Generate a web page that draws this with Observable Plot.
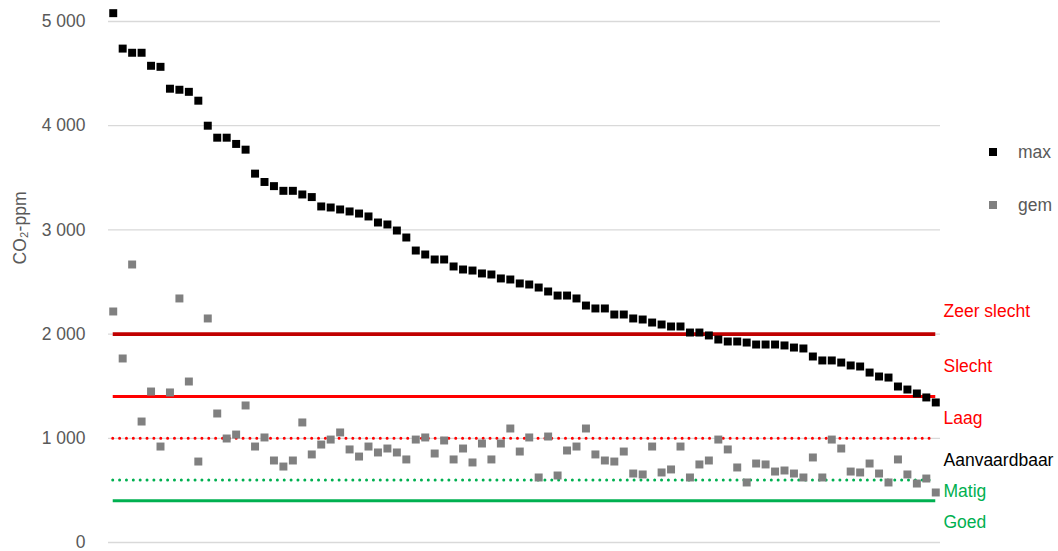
<!DOCTYPE html>
<html><head><meta charset="utf-8">
<script src="https://cdn.jsdelivr.net/npm/d3@7"></script>
<script src="https://cdn.jsdelivr.net/npm/@observablehq/plot@0.6"></script>
<style>
body{margin:0;background:#fff;}
#wrap{position:relative;width:1058px;height:551px;font-family:"Liberation Sans Narrow","Arial Narrow","Liberation Sans",sans-serif;}
.leg{position:absolute;left:989px;font-size:17.5px;color:#595959;display:flex;align-items:center;height:24px;}
.leg .sw{width:8px;height:8px;display:inline-block;margin-right:21px;}
#ylab{position:absolute;left:20px;top:228px;transform:translate(-50%,-50%) rotate(-90deg);font-size:17.5px;color:#595959;white-space:nowrap;}
</style></head><body><div id="wrap"></div>
<script>
const maxValues = [5080,4740,4700,4700,4575,4565,4355,4345,4325,4240,4000,3885,3885,3825,3770,3540,3460,3420,3375,3375,3340,3315,
3225,3215,3196,3177,3157,3129,3071,3052,2994,2927,2802,2764,2716,2716,2649,2620,2610,2582,2572,2534,2524,2486,
2476,2447,2409,2370,2370,2342,2274,2246,2246,2188,2188,2150,2140,2111,2092,2073,2073,2015,2015,1987,1948,
1929,1929,1919,1900,1900,1900,1891,1871,1862,1785,1747,1747,1727,1699,1689,1631,1593,1583,1497,1468,1430,1392,1344];
const gemValues = [2217,1766,2668,1161,1449,921,1440,2342,1545,777,2150,1238,998,1036,1315,921,1008,787,729,787,1152,845,
940,988,1056,893,825,921,864,902,864,797,988,1008,854,979,797,902,768,950,797,950,1094,873,
1008,624,1017,643,883,921,1094,845,787,777,873,662,653,921,672,701,921,624,749,787,988,
893,720,576,758,749,681,691,662,624,816,624,988,902,681,672,758,662,576,797,653,566,614,480];
const yTicks = [0,1000,2000,3000,4000,5000];
const yLabel = "CO₂-ppm";
const bandNames = ["Zeer slecht","Slecht","Laag","Aanvaardbaar","Matig","Goed"];
const bandLow  = [2000,1400,1000,600,400,0];
const bandHigh = [2450,2000,1400,1000,600,400];
const seriesNames = ["max","gem"];

const idx = maxValues.map((d,i)=>i+1);
const first = idx[0], last = idx[idx.length-1];
const FONT = '"Liberation Sans Narrow","Arial Narrow","Liberation Sans",sans-serif';
const bandColors = ["#FF0000","#FF0000","#FF0000","#000000","#00B050","#00B050"];

const plot = Plot.plot({
  width: 1058, height: 551,
  marginLeft: 108, marginRight: 118, marginTop: 21, marginBottom: 9,
  style: {fontFamily: FONT, fontSize: "17.5px", background: "#fff", overflow: "visible"},
  x: {type: "linear", domain: [0.5, idx.length + 0.5], axis: null},
  y: {domain: [0, 5000]},
  marks: [
    Plot.gridY(yTicks, {stroke: "#D9D9D9", strokeOpacity: 1, strokeWidth: 1.3}),
    Plot.axisY(yTicks, {tickSize: 0, tickPadding: 23, fill: "#595959", fontSize: 17.5,
      tickFormat: d => d3.format(",")(d).replace(/,/g, " "), label: null}),
    Plot.ruleY([bandLow[0]], {x1: first, x2: last, stroke: "#C00000", strokeWidth: 3.6}),
    Plot.ruleY([bandLow[1]], {x1: first, x2: last, stroke: "#FF0000", strokeWidth: 3}),
    Plot.ruleY([bandLow[2]], {x1: first, x2: last, stroke: "#FF0000", strokeWidth: 3, strokeDasharray: "0.01 6.85", strokeLinecap: "round"}),
    Plot.ruleY([bandLow[3]], {x1: first, x2: last, stroke: "#00B050", strokeWidth: 3, strokeDasharray: "0.01 6.85", strokeLinecap: "round"}),
    Plot.ruleY([bandLow[4]], {x1: first, x2: last, stroke: "#00B050", strokeWidth: 3}),
    Plot.dot(gemValues, {x: (d,i) => idx[i], y: d => d, symbol: "square", r: 4.5, fill: "#808080", stroke: "none"}),
    Plot.dot(maxValues, {x: (d,i) => idx[i], y: d => d, symbol: "square", r: 4.5, fill: "#000000", stroke: "none"}),
    Plot.text(bandNames, {frameAnchor: "right", dx: 3, dy: 1, textAnchor: "start",
      y: (d,i) => (bandLow[i] + bandHigh[i]) / 2,
      text: d => d, fill: (d,i) => bandColors[i], fontSize: 17.5})
  ]
});
const wrap = document.getElementById("wrap");
wrap.appendChild(plot);
const yl = document.createElement("div");
yl.id = "ylab"; yl.textContent = yLabel;
wrap.appendChild(yl);
const legendColors = ["#000000","#808080"];
const legendTops = [140, 193];
seriesNames.forEach((n,i) => {
  const el = document.createElement("div");
  el.className = "leg";
  el.style.top = legendTops[i] + "px";
  el.innerHTML = `<span class="sw" style="background:${legendColors[i]}"></span><span>${n}</span>`;
  wrap.appendChild(el);
});
</script></body></html>
